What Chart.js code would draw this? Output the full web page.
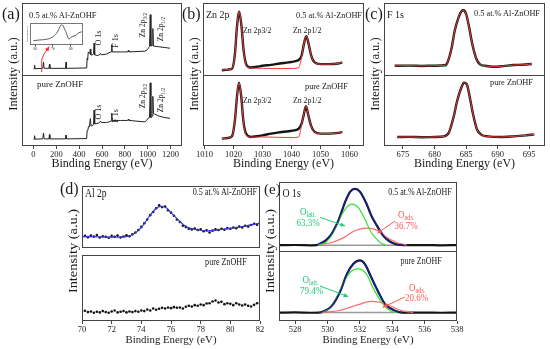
<!DOCTYPE html>
<html>
<head>
<meta charset="utf-8">
<script src="https://cdn.jsdelivr.net/npm/chart.js@4.4.1/dist/chart.umd.min.js"></script>
<style>
body { margin: 0; width: 550px; height: 349px; background: #fff; position: relative; overflow: hidden;
       font-family: "Liberation Serif", "Times New Roman", serif; color: #1a1a1a; }
canvas { position: absolute; }
.t { position: absolute; white-space: nowrap; line-height: 1; }
.t sub { font-size: 70%; vertical-align: -0.25em; line-height: 0; }
#ov { position: absolute; left: 0; top: 0; z-index: 5; }
</style>
</head>
<body>
<svg id="ov" width="550" height="349"></svg>
<script>
// ---- data: (a) survey spectra, [binding energy, intensity]
const surveyAl = [[0,10],[6,10],[10,15],[14,10],[82,10.5],[88,19],[94,10.5],[136,10.5],[140,16],[144,10.5],[281,10.5],[285,19],[289,10.5],[466,11],[470,24],[474,22],[480,33],[488,31],[494,32],[498,37],[502,29],[520,29],[526,31],[531,45],[536,29],[560,28],[578,29],[586,31],[594,29],[640,30],[662,32],[680,33],[685,43],[690,33],[760,33],[824,33],[830,35],[836,33],[975,34],[990,35],[1003,38],[1016,40],[1022,84],[1028,41],[1040,42],[1045,65],[1050,41],[1100,40],[1150,39],[1195,38]];
const surveyPure = [[0,9.7],[6,9.7],[10,14.5],[14,9.7],[82,10],[88,18.4],[94,10],[136,10],[140,16],[144,10],[281,10],[285,15.5],[289,10],[466,10.5],[470,21.7],[476,22],[482,27.5],[490,27],[498,38.6],[504,28],[520,29],[526,31],[531,50.7],[536,31],[565,32],[578,33],[586,35],[594,33],[640,33],[662,34],[680,35],[685,46],[690,36],[760,36],[824,36],[830,37.7],[836,36],[975,34],[990,36],[1003,39],[1016,40],[1022,89],[1028,40],[1040,42],[1045,70],[1050,46],[1060,45],[1100,42],[1150,40],[1195,39]];
const insetAl = [[58.9,20],[62.7,23],[66.5,26],[69.3,34],[72.1,54],[75,92],[77.2,62],[79.1,28],[80.6,38],[82.5,42],[84.3,54],[86.3,60]];

// (b) Zn 2p
const zn2pAl = [[1016,7.9],[1018,8.8],[1019.5,10],[1020.5,30],[1021.2,67],[1022,88],[1022.8,67],[1023.5,35],[1024.5,15],[1026,11.6],[1028,12.6],[1030,14],[1033,15.3],[1036,17.2],[1039,18.6],[1041,20],[1042.5,22],[1043.5,28],[1044.3,44],[1045.1,54.4],[1045.9,44],[1046.8,28],[1048,18.6],[1050,16.3],[1053,16.3],[1056,17.2],[1057.5,18.6]];
const zn2pAlFit = [[1016,7.9],[1018,8.8],[1019.5,10],[1020.5,30],[1021.2,67],[1022,88],[1022.8,67],[1023.5,35],[1024.5,14],[1026,11],[1030,10.5],[1035,10.2],[1040,10.2],[1042.5,11.6],[1043.5,26],[1044.3,44],[1045.1,54.4],[1045.9,44],[1046.8,28],[1048,18.6],[1050,16.3],[1053,16.3],[1056,17.2],[1057.5,18.6]];
const zn2pPure = [[1016,10.4],[1018,11.3],[1019.5,13.7],[1020.5,36],[1021.2,69],[1021.9,89],[1022.7,69],[1023.4,36],[1024.3,17.5],[1026,12.7],[1028,13.7],[1030,15],[1033,17.5],[1036,19.3],[1039,20.8],[1041,22],[1042.5,24.5],[1043.5,31.6],[1044.2,43.4],[1045,56],[1045.8,43.4],[1046.7,29],[1048,19.8],[1050,17.5],[1053,17.5],[1056,18.4],[1057.5,19.8]];
const zn2pPureFit = [[1016,10.4],[1018,11.3],[1019.5,13.7],[1020.5,36],[1021.2,69],[1021.9,89],[1022.7,69],[1023.4,36],[1024.3,16],[1026,12.5],[1030,12.7],[1035,12.3],[1040,11.8],[1042.5,12.7],[1043.5,30],[1044.2,43.4],[1045,56],[1045.8,43.4],[1046.7,29],[1048,19.8],[1050,17.5],[1053,17.5],[1056,18.4],[1057.5,19.8]];

// (c) F 1s
const f1sAl = [[673.7,14],[676,14.2],[678,13.8],[680,14.1],[681.7,14.8],[682.1,19.6],[682.7,38],[683.2,62],[683.8,80],[684.3,89],[684.6,90],[685,85],[685.5,66],[686,43],[686.6,24],[687.2,16],[688,14],[689.3,12.6],[690.9,13.5],[692.5,15],[694,15.4],[695.4,16.4]];
const f1sPure = [[674.1,12.6],[676,12.8],[678,12.4],[680,12.7],[681.5,13.5],[682.3,19.5],[683,40],[683.6,64],[684.2,81],[684.7,89],[685.1,87],[685.6,68],[686.1,45],[686.7,24],[687.4,16],[688.5,13.5],[690.5,12.6],[692.5,13.5],[694.5,15],[695.8,16.3]];

// (d) Al 2p
const alX = [70,70.2,70.4,70.6,70.8,71,71.2,71.4,71.6,71.8,72,72.2,72.4,72.6,72.8,73,73.2,73.4,73.6,73.8,74,74.2,74.4,74.6,74.8,75,75.2,75.4,75.6,75.8,76,76.2,76.4,76.6,76.8,77,77.2,77.4,77.6,77.8,78,78.2,78.4,78.6,78.8,79,79.2,79.4,79.6,79.8,80,80.2,80.4,80.6,80.8,81,81.2,81.4,81.6,81.8,82];
const alAl = [18,19.5,17.5,20,18.5,21,17,19,18,16.5,19.5,18,20,17,18.5,20.5,19,22,25,29,34,40,46,53,58,64,69,66,67,61,57,52,46,42,36,34,31,30,31.5,29,30,27,28.5,25,28,30,29,31,29.5,32,31,33,32,34.5,33,36,34.5,37,39,37.5,41];
const alPure = [14,15.5,13.5,14.5,12.5,14,13,15,13.5,12.5,14.5,16,13,14,15,13,14.5,13.5,15,14,16,15,17.5,16,19,17,18.5,20,19,20.5,19.5,21,20,20.5,19,21.5,23,22,24,23,25,24,26.5,27,29.5,31,28,29,25.5,27,26,24,27,25,23.5,25,23,22,24.5,27,29];
const alFit = [[70,18.4],[71,18],[72,17.5],[73,18.4],[73.5,23],[74,33],[74.5,50],[75,63.6],[75.3,67],[75.7,64.6],[76,57],[76.5,45],[77,34.5],[77.5,30.6],[78,28.6],[78.5,27.7],[79,28.6],[80,31.6],[81,35.4],[82,40]];

// (e) O 1s
const o1sAl = [[527,9.8],[528,10],[529,9.6],[529.33,9.8],[530.16,23],[530.67,44.9],[531.09,71.7],[531.4,86.3],[531.7,90.2],[532,86.3],[532.4,69.3],[532.7,52.2],[533.05,37.6],[533.46,22.9],[533.87,14.6],[534.3,10.7],[534.7,9.8],[536,9.9],[537,9.6],[538,9.8]];
const o1sAlLatt = [[529.4,9.8],[529.9,14],[530.3,25.4],[530.8,49.8],[531.2,64.4],[531.5,68.3],[531.9,63.4],[532.3,47.3],[532.7,27.8],[533.15,15.6],[533.35,12],[533.6,9.8]];
const o1sAlAds = [[529.4,9.8],[530.2,13.2],[531,20.5],[531.6,29.3],[532.4,34.1],[533.05,31.2],[533.7,20.5],[534.3,13.2],[534.9,9.8]];
const o1sAlBase = [[529.2,9.8],[535.1,9.8]];
const o1sPure = [[527,12],[528,12.2],[529,11.8],[529.5,12],[530.26,21.6],[530.8,43.3],[531.2,67.3],[531.6,81.7],[532,86.5],[532.3,81.7],[532.7,62.5],[533.15,40.9],[533.56,24],[534.1,15.4],[534.6,12],[536,12.1],[537,11.8],[538,12]];
const o1sPureLatt = [[529.5,12],[530,16],[530.4,26.4],[530.9,50.5],[531.4,69.7],[531.9,74.5],[532.4,67.3],[532.8,48],[533.35,26.4],[533.9,14.4],[534.3,12]];
const o1sPureAds = [[529.7,12],[530.8,15.4],[531.8,22.6],[532.74,27.9],[533.66,24],[534.5,15.4],[535.3,12]];
const o1sPureBase = [[529.4,12],[535.4,12]];

// tick labels
const ticksA = [0, 200, 400, 600, 800, 1000, 1200];
const ticksInset = [60, 70, 80];
const ticksB = [1010, 1020, 1030, 1040, 1050, 1060];
const ticksC = [675, 680, 685, 690, 695];
const ticksD = [70, 72, 74, 76, 78, 80, 82];
const ticksE = [528, 530, 532, 534, 536, 538];

const SERIF = '"Liberation Serif", "Times New Roman", serif';
const P = 16;

// frame around the plot area
const framePlugin = {
  id: 'frame',
  afterDraw(chart) {
    const a = chart.chartArea, c = chart.ctx;
    c.save();
    c.strokeStyle = chart.options.frameColor || '#444';
    c.lineWidth = 1;
    c.strokeRect(a.left + 0.5, a.top + 0.5, a.right - a.left - 1, a.bottom - a.top - 1);
    c.restore();
  }
};

function makeChart(box, xr, xticks, datasets, axis) {
  const cv = document.createElement('canvas');
  cv.width = box.w + 2 * P;
  cv.height = box.h + (axis ? axis.h + 4 : 0);
  cv.style.left = (box.x - P) + 'px';
  cv.style.top = box.y + 'px';
  document.body.appendChild(cv);
  new Chart(cv, {
    type: 'line',
    data: { datasets: datasets },
    options: {
      responsive: false,
      animation: false,
      devicePixelRatio: 1,
      frameColor: axis && axis.frame ? axis.frame : '#444',
      layout: { padding: { left: P, right: P, top: 0, bottom: axis ? 4 : 0 } },
      plugins: { legend: { display: false }, tooltip: { enabled: false } },
      elements: { point: { radius: 0 } },
      scales: {
        x: {
          type: 'linear', min: xr[0], max: xr[1], display: !!axis,
          afterBuildTicks: s => { s.ticks = xticks.map(v => ({ value: v })); },
          afterFit: s => { if (axis) s.height = axis.h; },
          grid: { drawOnChartArea: false, drawTicks: true, tickLength: axis ? axis.tl : 3, color: '#444' },
          border: { display: false },
          ticks: {
            font: { family: SERIF, size: axis ? axis.tick : 8 }, color: '#222',
            padding: axis ? axis.pad : 1, maxRotation: 0, autoSkip: false,
            callback: v => String(v)
          },
          title: {
            display: !!(axis && axis.title), text: 'Binding Energy (eV)', color: '#1a1a1a',
            font: { family: SERIF, size: axis ? axis.title : 12 }, padding: { top: 0, bottom: 0 }
          }
        },
        y: { min: 0, max: 100, display: false }
      }
    },
    plugins: [framePlugin]
  });
}

function line(data, color, width, smooth) {
  return { data: data, borderColor: color, borderWidth: width, pointRadius: 0,
           cubicInterpolationMode: smooth ? 'monotone' : 'default', tension: 0 };
}
function dots(xs, ys, color) {
  return { data: xs.map((x, i) => [x, ys[i]]), showLine: false, pointRadius: 1.3,
           pointBackgroundColor: color, pointBorderWidth: 0 };
}

const axisABC = { h: 25, tick: 8.5, title: 12, tl: 3, pad: 1 };
const axisDE = { h: 26, tick: 8.5, title: 10.8, tl: 3, pad: 1 };

// (a)
makeChart({ x: 22, y: 3, w: 160, h: 73 }, [-100, 1300], ticksA, [line(surveyAl, '#222', 1, false)], null);
makeChart({ x: 22, y: 75, w: 160, h: 71 }, [-100, 1300], ticksA, [line(surveyPure, '#222', 1, false)], axisABC);
makeChart({ x: 30, y: 23, w: 53, h: 22 }, [57, 87], ticksInset, [line(insetAl, '#333', 0.8, true)],
  { h: 5, tick: 3.5, title: 0, tl: 1.5, pad: 0, frame: '#777' });

// (b)
const BLACK = '#151515', RED = '#f03a3a';
makeChart({ x: 203, y: 3, w: 161, h: 73 }, [1009.5, 1065], ticksB,
  [line(zn2pAlFit, RED, 1, true), line(zn2pAl, BLACK, 2.4, true)], null);
makeChart({ x: 203, y: 75, w: 161, h: 71 }, [1009.5, 1065], ticksB,
  [line(zn2pPureFit, RED, 1, true), line(zn2pPure, BLACK, 2.4, true)], axisABC);

// (c)
makeChart({ x: 384, y: 3, w: 161, h: 73 }, [672, 697.5], ticksC,
  [line(f1sAl, RED, 1, true), line(f1sAl, BLACK, 2.4, true)], null);
makeChart({ x: 384, y: 75, w: 161, h: 71 }, [672, 697.5], ticksC,
  [line(f1sPure, RED, 1, true), line(f1sPure, BLACK, 2.4, true)], axisABC);

// (d)
makeChart({ x: 82, y: 182, w: 178, h: 70 }, [70, 82], ticksD,
  [line(alFit, '#3a3ad6', 1.2, true), dots(alX, alAl, '#111')], null);
makeChart({ x: 82, y: 251, w: 178, h: 70 }, [70, 82], ticksD,
  [dots(alX, alPure, '#111')], axisDE);

// (e)
const NAVY = '#1c1c9a', GREEN = '#33e033', PINK = '#ff6b6b', GREY = '#999';
const inPeak = (arr, a, b) => arr.filter(p => p[0] >= a && p[0] <= b);
makeChart({ x: 279, y: 182, w: 178, h: 70 }, [527, 538], ticksE,
  [line(inPeak(o1sAl, 529.2, 534.8), NAVY, 1.3, true), line(o1sAlLatt, GREEN, 1.2, true),
   line(o1sAlAds, PINK, 1.2, true), line(o1sAl, BLACK, 2.2, true), line(o1sAlBase, GREY, 1.5, false)], null);
makeChart({ x: 279, y: 251, w: 178, h: 70 }, [527, 538], ticksE,
  [line(inPeak(o1sPure, 529.4, 534.7), NAVY, 1.3, true), line(o1sPureLatt, GREEN, 1.2, true),
   line(o1sPureAds, PINK, 1.2, true), line(o1sPure, BLACK, 2.2, true), line(o1sPureBase, GREY, 1.5, false)], axisDE);

// ---- text
function txt(html, x, y, size, o) {
  o = o || {};
  const d = document.createElement('div');
  d.className = 't';
  d.innerHTML = html;
  d.style.left = x + 'px';
  d.style.top = y + 'px';
  d.style.fontSize = size + 'px';
  if (o.color) d.style.color = o.color;
  let tf = 'translate(0,-50%)';
  if (o.anchor === 'c') tf = 'translate(-50%,-50%)';
  if (o.anchor === 'r') tf = 'translate(-100%,-50%)';
  if (o.rot) tf = 'translate(-50%,-50%) rotate(-90deg)';
  if (o.sx) tf += ' scale(' + o.sx + ',1)';
  if (o.sy) tf += ' scale(1,' + o.sy + ')';
  d.style.transform = tf;
  document.body.appendChild(d);
}

// panel letters
txt('(a)', 2, 14, 16);
txt('(b)', 182, 14, 16);
txt('(c)', 365, 14, 16);
txt('(d)', 60, 188.5, 16);
txt('(e)', 264, 188.5, 15);

// y axis titles
txt('Intensity (a.u.)', 12.5, 74, 12.5, { rot: true });
txt('Intensity (a.u.)', 193.5, 74, 12.5, { rot: true });
txt('Intensity (a.u.)', 375, 74, 12.5, { rot: true });
txt('Intensity (a.u.)', 74, 251, 11.5, { rot: true, sx: 1.25 });
txt('Intensity (a.u.)', 271, 251, 11.5, { rot: true, sx: 1.25 });
txt('Intensity (a.u.)', 28, 34, 2.6, { rot: true });

// (a)
txt('0.5 at.% Al-ZnOHF', 29, 15, 8.5);
txt('pure ZnOHF', 37, 84, 9);
txt('O 1s', 98.5, 38, 8, { rot: true });
txt('F 1s', 115.5, 41, 8, { rot: true });
txt('Zn 2p<sub>3/2</sub>', 143, 25, 7.5, { rot: true });
txt('Zn 2p<sub>1/2</sub>', 161, 29, 7.5, { rot: true });
txt('O 1s', 98.5, 112, 8, { rot: true });
txt('F 1s', 115.5, 116, 8, { rot: true });
txt('Zn 2p<sub>3/2</sub>', 143, 96, 7.5, { rot: true });
txt('Zn 2p<sub>1/2</sub>', 161, 99.7, 7.5, { rot: true });

// (b)
txt('Zn 2p', 206, 15, 10);
txt('0.5 at.% Al-ZnOHF', 362, 15.5, 8.3, { anchor: 'r' });
txt('Zn 2p3/2', 243, 31, 7.8);
txt('Zn 2p1/2', 293, 31, 7.8);
txt('pure ZnOHF', 348, 87.3, 8.4, { anchor: 'r' });
txt('Zn 2p3/2', 243, 100.5, 7.8);
txt('Zn 2p1/2', 293, 100.5, 7.8);

// (c)
txt('F 1s', 387, 15, 10);
txt('0.5 at.% Al-ZnOHF', 540, 13.7, 8.3, { anchor: 'r' });
txt('pure ZnOHF', 533, 83, 8.4, { anchor: 'r' });

// (d)
txt('Al 2p', 85, 193.3, 9.6, { sy: 1.2 });
txt('0.5 at.% Al-ZnOHF', 257, 193.3, 8.1, { anchor: 'r', sy: 1.2 });
txt('pure ZnOHF', 246.7, 263.3, 8.1, { anchor: 'r', sy: 1.2 });

// (e)
const LBLG = '#22c878', LBLR = '#ff5555';
txt('O 1s', 282.5, 193, 9.8, { sy: 1.2 });
txt('0.5 at.% Al-ZnOHF', 451.7, 193.3, 8, { anchor: 'r', sy: 1.2 });
txt('pure ZnOHF', 441.7, 261.5, 8, { anchor: 'r', sy: 1.2 });
txt('O<sub>latt.</sub>', 300, 212, 9, { color: LBLG, sy: 1.2 });
txt('63.3%', 308, 222.5, 9, { anchor: 'c', color: LBLG, sy: 1.2 });
txt('O<sub>ads.</sub>', 398, 215, 9, { color: LBLR, sy: 1.2 });
txt('36.7%', 406, 226, 9, { anchor: 'c', color: LBLR, sy: 1.2 });
txt('O<sub>latt.</sub>', 302.5, 279.5, 9, { color: LBLG, sy: 1.2 });
txt('79.4%', 311.7, 290.7, 9, { anchor: 'c', color: LBLG, sy: 1.2 });
txt('O<sub>ads.</sub>', 409, 288.3, 9, { color: LBLR, sy: 1.2 });
txt('20.6%', 416.5, 298, 9, { anchor: 'c', color: LBLR, sy: 1.2 });

// ---- arrows
const svg = document.getElementById('ov');
function arrow(pts, color) {
  const NS = 'http://www.w3.org/2000/svg';
  const p = document.createElementNS(NS, 'path');
  p.setAttribute('d', pts.map((q, i) => (i ? 'L' : 'M') + q[0] + ' ' + q[1]).join(' '));
  p.setAttribute('stroke', color);
  p.setAttribute('stroke-width', '1');
  p.setAttribute('fill', 'none');
  svg.appendChild(p);
  const [x1, y1] = pts[pts.length - 2], [x2, y2] = pts[pts.length - 1];
  const a = Math.atan2(y2 - y1, x2 - x1), L = 4.5, W = 2.2;
  const bx = x2 - L * Math.cos(a), by = y2 - L * Math.sin(a);
  const h = document.createElementNS(NS, 'polygon');
  h.setAttribute('points', [x2, y2, bx + W * Math.sin(a), by - W * Math.cos(a), bx - W * Math.sin(a), by + W * Math.cos(a)].join(' '));
  h.setAttribute('fill', color);
  svg.appendChild(h);
}
arrow([[41.7, 72], [41.7, 60], [44, 54], [49.3, 46.5]], '#ff3030');
arrow([[320, 217.3], [345, 226]], LBLG);
arrow([[395, 221], [377.3, 233.3]], LBLR);
arrow([[320, 286], [348.3, 296.7]], LBLG);
arrow([[405, 297], [382.7, 307.3]], LBLR);
</script>
</body>
</html>
